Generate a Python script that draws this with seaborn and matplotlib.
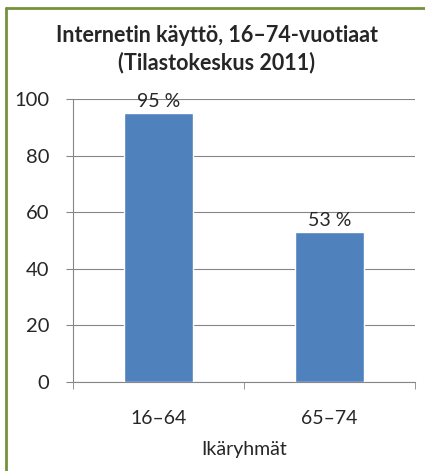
import matplotlib
matplotlib.use("Agg")
import matplotlib.pyplot as plt
import seaborn as sns
import pandas as pd
from matplotlib.lines import Line2D

groups = ["16–64", "65–74"]
shares = [95, 53]
yticks = [0, 20, 40, 60, 80, 100]
title = "Internetin käyttö, 16–74-vuotiaat\n(Tilastokeskus 2011)"
xlabel = "Ikäryhmät"

sns.set_style("white")
plt.rcParams['font.family'] = ['Lato', 'DejaVu Sans']

df = pd.DataFrame({"group": groups, "share": shares})

fig = plt.figure(figsize=(4.25, 4.71), dpi=100)
ax = fig.add_axes([0.172, 0.189, 0.804, 0.601])
sns.barplot(data=df, x="group", y="share", color="#4F81BD", width=0.4,
            saturation=1, ax=ax, zorder=3)

ax.set_ylim(0, 100)
ax.set_xlim(-0.5, 1.5)
ax.set_yticks(yticks)
ax.yaxis.grid(True, color="#868686", linewidth=0.8, zorder=0)
ax.set_axisbelow(True)
for s in ["top", "right"]:
    ax.spines[s].set_visible(False)
for s in ["left", "bottom"]:
    ax.spines[s].set_color("#868686")
    ax.spines[s].set_linewidth(0.8)

fs = 14
ax.tick_params(axis="y", labelsize=fs + 0.5, length=5, color="#868686", pad=12, left=True)
ax.set_xticks([0, 1])
ax.set_xticklabels(groups)
ax.tick_params(axis="x", labelsize=fs, length=0, pad=20)
ax.set_xticks([-0.5, 0.5, 1.5], minor=True)
ax.tick_params(axis="x", which="minor", length=5, color="#868686", bottom=True)

for i, v in enumerate(shares):
    ax.text(i, v + 1, f"{v} %", ha="center", va="bottom", fontsize=fs)

ax.set_xlabel(xlabel, fontsize=fs, labelpad=10)
ax.set_ylabel("")
fig.text(0.51, 0.947, title, ha="center", va="top", fontsize=15.5,
         fontweight="bold", linespacing=1.3)

# border (top and left edges visible)
fig.add_artist(Line2D([6 / 425, 1], [1 - 8 / 471, 1 - 8 / 471], color="#76923C",
                      linewidth=2, transform=fig.transFigure))
fig.add_artist(Line2D([6 / 425, 6 / 425], [0, 1 - 8 / 471], color="#76923C",
                      linewidth=2, transform=fig.transFigure))

fig.savefig("out.png", dpi=100)
